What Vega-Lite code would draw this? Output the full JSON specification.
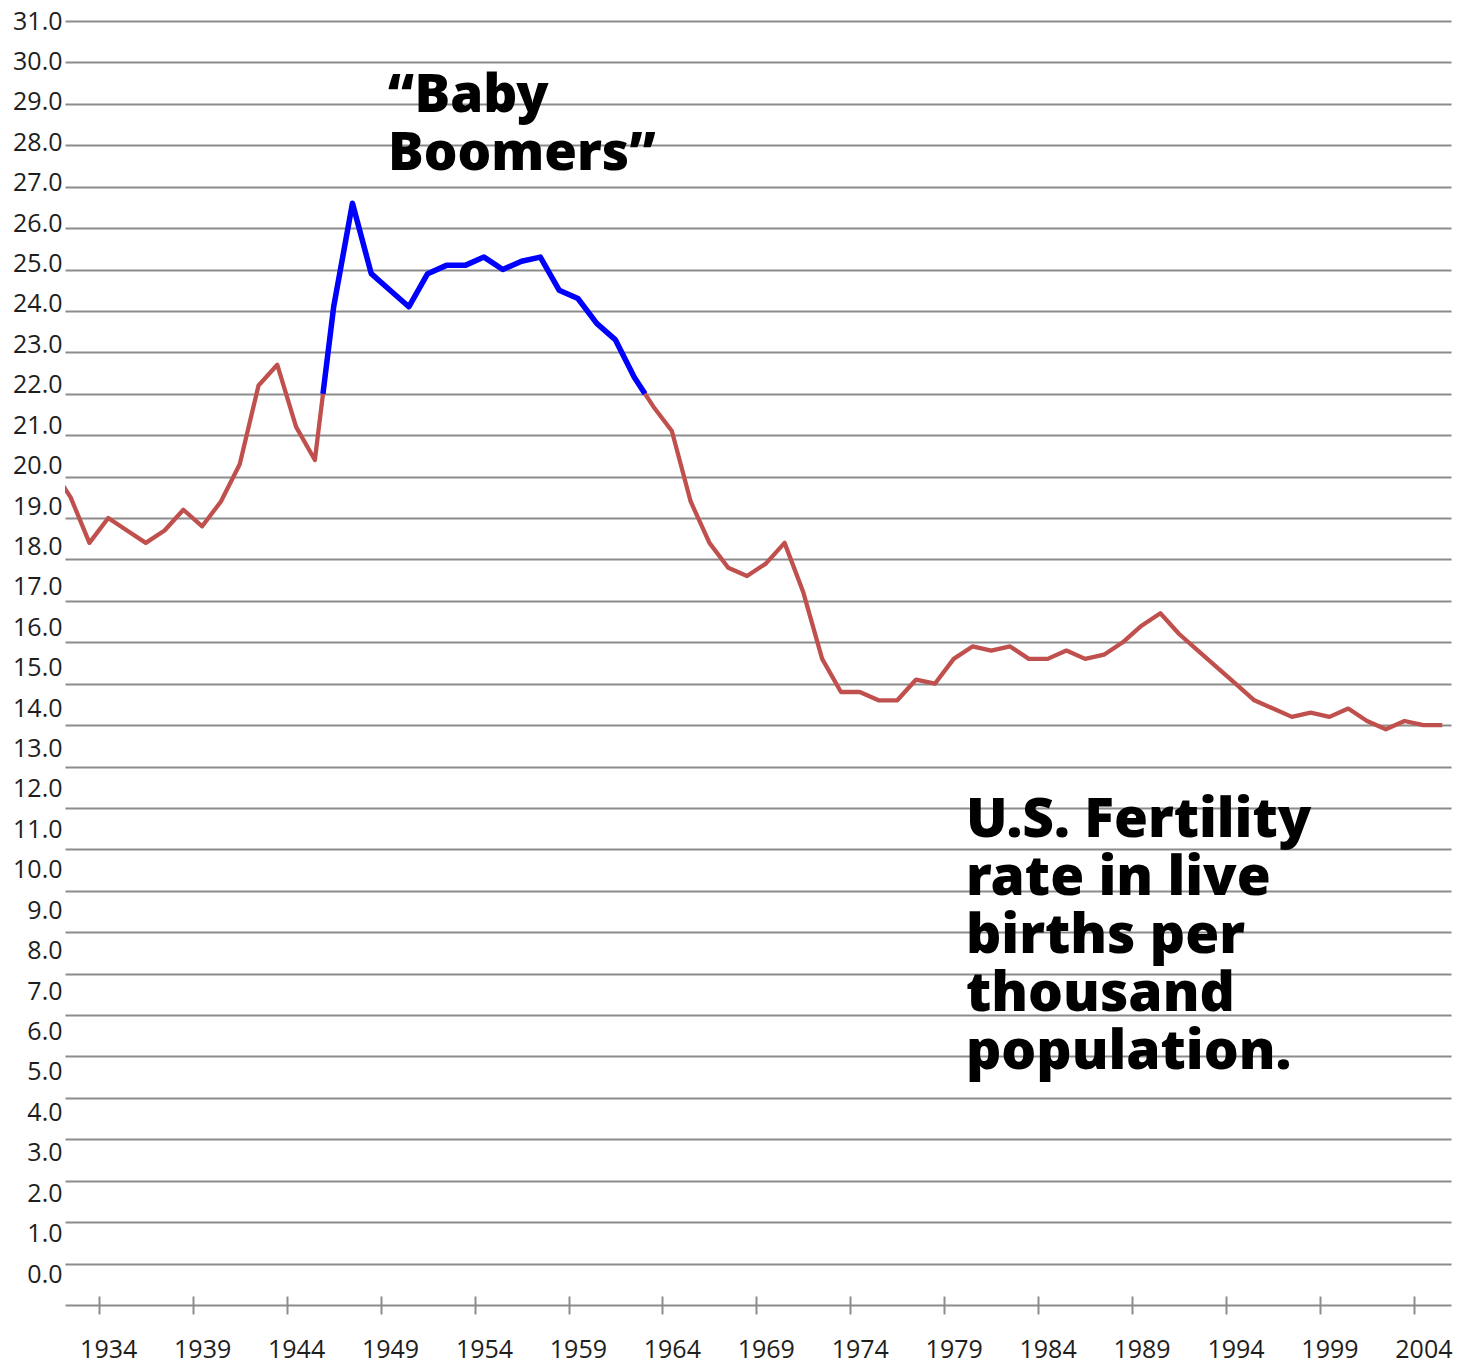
{
  "$schema": "https://vega.github.io/schema/vega-lite/v6.json",
  "autosize": {"type": "none"},
  "padding": {"left": 65, "top": 21, "right": 6, "bottom": 59},
  "width": 1386,
  "height": 1284,
  "background": "white",
  "config": {"view": {"stroke": null}},
  "datasets": {
    "births": [
      {"year": 1931, "rate": 20.2}, {"year": 1932, "rate": 19.5}, {"year": 1933, "rate": 18.4},
      {"year": 1934, "rate": 19.0}, {"year": 1935, "rate": 18.7}, {"year": 1936, "rate": 18.4},
      {"year": 1937, "rate": 18.7}, {"year": 1938, "rate": 19.2}, {"year": 1939, "rate": 18.8},
      {"year": 1940, "rate": 19.4}, {"year": 1941, "rate": 20.3}, {"year": 1942, "rate": 22.2},
      {"year": 1943, "rate": 22.7}, {"year": 1944, "rate": 21.2}, {"year": 1945, "rate": 20.4},
      {"year": 1946, "rate": 24.1}, {"year": 1947, "rate": 26.6}, {"year": 1948, "rate": 24.9},
      {"year": 1949, "rate": 24.5}, {"year": 1950, "rate": 24.1}, {"year": 1951, "rate": 24.9},
      {"year": 1952, "rate": 25.1}, {"year": 1953, "rate": 25.1}, {"year": 1954, "rate": 25.3},
      {"year": 1955, "rate": 25.0}, {"year": 1956, "rate": 25.2}, {"year": 1957, "rate": 25.3},
      {"year": 1958, "rate": 24.5}, {"year": 1959, "rate": 24.3}, {"year": 1960, "rate": 23.7},
      {"year": 1961, "rate": 23.3}, {"year": 1962, "rate": 22.4}, {"year": 1963, "rate": 21.7},
      {"year": 1964, "rate": 21.1}, {"year": 1965, "rate": 19.4}, {"year": 1966, "rate": 18.4},
      {"year": 1967, "rate": 17.8}, {"year": 1968, "rate": 17.6}, {"year": 1969, "rate": 17.9},
      {"year": 1970, "rate": 18.4}, {"year": 1971, "rate": 17.2}, {"year": 1972, "rate": 15.6},
      {"year": 1973, "rate": 14.8}, {"year": 1974, "rate": 14.8}, {"year": 1975, "rate": 14.6},
      {"year": 1976, "rate": 14.6}, {"year": 1977, "rate": 15.1}, {"year": 1978, "rate": 15.0},
      {"year": 1979, "rate": 15.6}, {"year": 1980, "rate": 15.9}, {"year": 1981, "rate": 15.8},
      {"year": 1982, "rate": 15.9}, {"year": 1983, "rate": 15.6}, {"year": 1984, "rate": 15.6},
      {"year": 1985, "rate": 15.8}, {"year": 1986, "rate": 15.6}, {"year": 1987, "rate": 15.7},
      {"year": 1988, "rate": 16.0}, {"year": 1989, "rate": 16.4}, {"year": 1990, "rate": 16.7},
      {"year": 1991, "rate": 16.2}, {"year": 1992, "rate": 15.8}, {"year": 1993, "rate": 15.4},
      {"year": 1994, "rate": 15.0}, {"year": 1995, "rate": 14.6}, {"year": 1996, "rate": 14.4},
      {"year": 1997, "rate": 14.2}, {"year": 1998, "rate": 14.3}, {"year": 1999, "rate": 14.2},
      {"year": 2000, "rate": 14.4}, {"year": 2001, "rate": 14.1}, {"year": 2002, "rate": 13.9},
      {"year": 2003, "rate": 14.1}, {"year": 2004, "rate": 14.0}, {"year": 2005, "rate": 14.0}
    ],
    "boom": [
      {"year": 1945.43, "rate": 22.0},
      {"year": 1946, "rate": 24.1}, {"year": 1947, "rate": 26.6}, {"year": 1948, "rate": 24.9},
      {"year": 1949, "rate": 24.5}, {"year": 1950, "rate": 24.1}, {"year": 1951, "rate": 24.9},
      {"year": 1952, "rate": 25.1}, {"year": 1953, "rate": 25.1}, {"year": 1954, "rate": 25.3},
      {"year": 1955, "rate": 25.0}, {"year": 1956, "rate": 25.2}, {"year": 1957, "rate": 25.3},
      {"year": 1958, "rate": 24.5}, {"year": 1959, "rate": 24.3}, {"year": 1960, "rate": 23.7},
      {"year": 1961, "rate": 23.3}, {"year": 1962, "rate": 22.4},
      {"year": 1962.57, "rate": 22.0}
    ]
  },
  "layer": [
    {
      "layer": [
        {
          "data": {"name": "births"},
          "mark": {"type": "line", "color": "#C0504D", "strokeWidth": 4.3, "strokeJoin": "round", "clip": true},
          "encoding": {
            "x": {
              "field": "year", "type": "quantitative",
              "scale": {"domain": [1931.7, 2005.47], "nice": false, "zero": false},
              "axis": {
                "title": null, "grid": false, "domain": false,
                "values": [1934, 1939, 1944, 1949, 1954, 1959, 1964, 1969, 1974, 1979, 1984, 1989, 1994, 1999, 2004],
                "format": "d",
                "tickOffset": -9.4, "labelOffset": 9.4,
                "offset": -9, "tickSize": 18, "tickColor": "#8c8c8c", "tickWidth": 2,
                "labelFont": "Open Sans", "labelFontSize": 25, "labelColor": "#1e1e1e",
                "labelPadding": 23, "labelFlush": false, "labelOverlap": false
              }
            },
            "y": {
              "field": "rate", "type": "quantitative",
              "scale": {"domain": [0, 31], "nice": false, "zero": true},
              "axis": {
                "orient": "right", "title": null, "labels": false, "ticks": false, "domain": false,
                "grid": true, "gridColor": "#8c8c8c", "gridWidth": 2,
                "values": [0,1,2,3,4,5,6,7,8,9,10,11,12,13,14,15,16,17,18,19,20,21,22,23,24,25,26,27,28,29,30,31]
              }
            }
          }
        },
        {
          "data": {"name": "boom"},
          "mark": {"type": "line", "color": "#0000FF", "strokeWidth": 5.5, "strokeJoin": "round", "strokeCap": "butt"},
          "encoding": {
            "x": {"field": "year", "type": "quantitative"},
            "y": {"field": "rate", "type": "quantitative"}
          }
        },
        {
          "data": {"values": [{"label": "“Baby\nBoomers”"}]},
          "mark": {"type": "text", "align": "left", "baseline": "alphabetic", "font": "Noto Sans", "fontWeight": 900, "fontSize": 53, "lineHeight": 58, "lineBreak": "\n", "color": "#000000"},
          "encoding": {
            "x": {"datum": 1948.89, "type": "quantitative"},
            "y": {"datum": 28.8, "type": "quantitative"},
            "text": {"field": "label"}
          }
        },
        {
          "data": {"values": [{"label": "U.S. Fertility\nrate in live\nbirths per\nthousand\npopulation."}]},
          "mark": {"type": "text", "align": "left", "baseline": "alphabetic", "font": "Noto Sans", "fontWeight": 900, "fontSize": 55, "lineHeight": 58, "lineBreak": "\n", "color": "#000000"},
          "encoding": {
            "x": {"datum": 1979.65, "type": "quantitative"},
            "y": {"datum": 11.3, "type": "quantitative"},
            "text": {"field": "label"}
          }
        }
      ]
    },
    {
      "data": {"name": "births"},
      "mark": {"type": "point", "opacity": 0},
      "encoding": {
        "x": {"field": "year", "type": "quantitative"},
        "y": {
          "field": "rate", "type": "quantitative",
          "scale": {"domain": [0, 31], "range": [1253, 0], "nice": false, "zero": true},
          "axis": {
            "orient": "left", "title": null, "grid": false, "ticks": false, "tickSize": 0, "domain": false,
            "values": [0,1,2,3,4,5,6,7,8,9,10,11,12,13,14,15,16,17,18,19,20,21,22,23,24,25,26,27,28,29,30,31],
            "format": ".1f",
            "labelFont": "Open Sans", "labelFontSize": 25, "labelColor": "#1e1e1e",
            "labelPadding": 3, "labelFlush": false, "labelOverlap": false
          }
        }
      }
    }
  ],
  "resolve": {"scale": {"y": "independent"}}
}
